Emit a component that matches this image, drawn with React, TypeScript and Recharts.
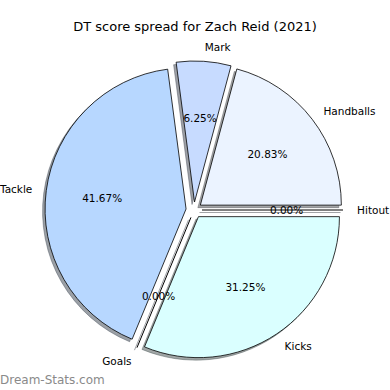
import { PieChart, Pie, Cell } from 'recharts';

// DT points per stat, 2021
const categories = ['Handballs', 'Mark', 'Tackle', 'Goals', 'Kicks', 'Hitout'];
const dtPoints = [10, 3, 20, 0, 15, 0];

const COLORS = ['#ebf3ff', '#c7dbff', '#b7d7ff', '#cfe4ff', '#daffff', '#e0ecff'];
const CX = 194;
const CY = 210;
const R = 141;
const EXPLODE = 8;
const SHADOW_DX = -2.5;
const SHADOW_DY = 2.5;
const FONT = 'DejaVu Sans, sans-serif';

const data = categories.map((name, i) => ({ name, value: dtPoints[i] }));
const total = dtPoints.reduce((a, b) => a + b, 0);

// mid angle of each slice, used to push it out from the centre
const midAngles = dtPoints.map((v, i) => {
  const before = dtPoints.slice(0, i).reduce((a, b) => a + b, 0);
  return ((before + v / 2) / total) * 360;
});

const RAD = Math.PI / 180;

function shade(hex: string) {
  const n = parseInt(hex.slice(1), 16);
  const r = Math.round(((n >> 16) & 255) * 0.3);
  const g = Math.round(((n >> 8) & 255) * 0.3);
  const b = Math.round((n & 255) * 0.3);
  return `rgb(${r},${g},${b})`;
}

function makeLabel(target: number, shadow: boolean) {
  return (props: any) => {
    const { cx, cy, midAngle, outerRadius, index, percent, startAngle, endAngle } = props;
    if (index !== target) return <g />;
    const cos = Math.cos(-midAngle * RAD);
    const sin = Math.sin(-midAngle * RAD);
    const zero = startAngle === endAngle;
    const line = zero ? (
      <line
        x1={cx}
        y1={cy}
        x2={cx + outerRadius * cos}
        y2={cy + outerRadius * sin}
        stroke={shadow ? shade(COLORS[target]) : '#000'}
        strokeOpacity={shadow ? 0.5 : 1}
        strokeWidth={1}
      />
    ) : null;
    if (shadow) return <g>{line}</g>;
    const lx = cx + outerRadius * 1.1 * cos;
    const ly = cy + outerRadius * 1.1 * sin;
    const px = cx + outerRadius * 0.6 * cos;
    const py = cy + outerRadius * 0.6 * sin;
    return (
      <g>
        {line}
        <text
          x={lx}
          y={ly}
          textAnchor={cos >= 0 ? 'start' : 'end'}
          dominantBaseline="central"
          fontFamily={FONT}
          fontSize={10.5}
          fill="#000"
        >
          {categories[target]}
        </text>
        <text
          x={px}
          y={py}
          textAnchor="middle"
          dominantBaseline="central"
          fontFamily={FONT}
          fontSize={10.5}
          fill="#000"
        >
          {`${(percent * 100).toFixed(2)}%`}
        </text>
      </g>
    );
  };
}

function slicePie(i: number, shadow: boolean) {
  const dx = EXPLODE * Math.cos(midAngles[i] * RAD) + (shadow ? SHADOW_DX : 0);
  const dy = -EXPLODE * Math.sin(midAngles[i] * RAD) + (shadow ? SHADOW_DY : 0);
  return (
    <Pie
      key={`${shadow ? 's' : 'p'}${i}`}
      data={data}
      dataKey="value"
      nameKey="name"
      cx={CX + dx}
      cy={CY + dy}
      outerRadius={R}
      startAngle={0}
      endAngle={360}
      isAnimationActive={false}
      labelLine={false}
      label={makeLabel(i, shadow)}
    >
      {data.map((_, j) => (
        <Cell
          key={j}
          fill={j === i ? (shadow ? shade(COLORS[i]) : COLORS[i]) : 'none'}
          fillOpacity={shadow ? 0.5 : 1}
          stroke={j === i ? (shadow ? shade(COLORS[i]) : '#000') : 'none'}
          strokeOpacity={shadow ? 0.5 : 1}
          strokeWidth={0.8}
        />
      ))}
    </Pie>
  );
}

export default function App() {
  return (
    <div style={{ position: 'absolute', left: 0, top: 0, width: 390, height: 390, background: '#fff' }}>
      <PieChart width={390} height={390} margin={{ top: 0, right: 0, bottom: 0, left: 0 }}>
        <text x={195} y={26} textAnchor="middle" dominantBaseline="central" fontFamily={FONT} fontSize={13} fill="#000">
          DT score spread for Zach Reid (2021)
        </text>
        {data.map((_, i) => slicePie(i, true))}
        {data.map((_, i) => slicePie(i, false))}
        <text x={0} y={380} dominantBaseline="central" fontFamily={FONT} fontSize={12} fill="#8a8a8a">
          Dream-Stats.com
        </text>
      </PieChart>
    </div>
  );
}
